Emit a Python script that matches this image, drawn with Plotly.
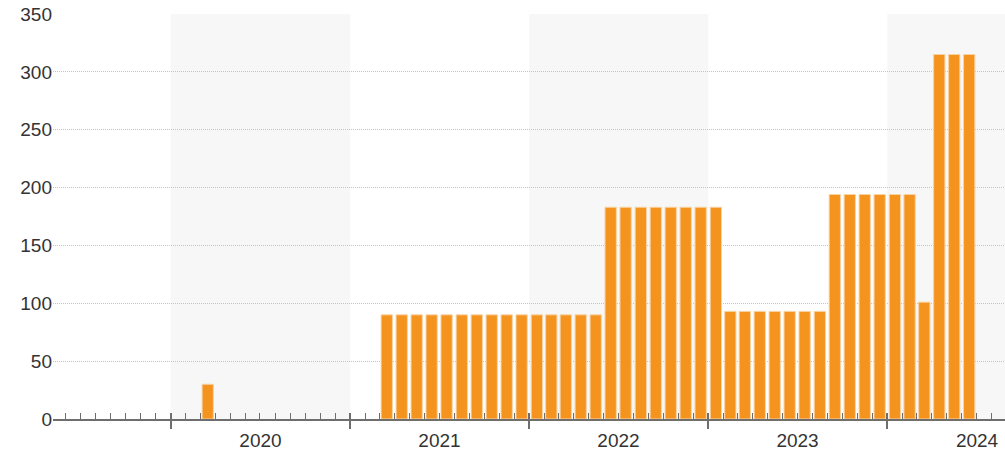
import plotly.graph_objects as go

# monthly values (only months with a value)
months = [
    "2020-03",
    "2021-03", "2021-04", "2021-05", "2021-06", "2021-07", "2021-08", "2021-09",
    "2021-10", "2021-11", "2021-12", "2022-01", "2022-02", "2022-03", "2022-04",
    "2022-05",
    "2022-06", "2022-07", "2022-08", "2022-09", "2022-10", "2022-11", "2022-12",
    "2023-01",
    "2023-02", "2023-03", "2023-04", "2023-05", "2023-06", "2023-07", "2023-08",
    "2023-09", "2023-10", "2023-11", "2023-12", "2024-01", "2024-02",
    "2024-03", "2024-04", "2024-05", "2024-06",
]
values = [
    30,
    90, 90, 90, 90, 90, 90, 90,
    90, 90, 90, 90, 90, 90, 90,
    90,
    183, 183, 183, 183, 183, 183, 183,
    183,
    93, 93, 93, 93, 93, 93, 93,
    194, 194, 194, 194, 194, 194,
    101, 315, 315, 315,
]

# year labels and shaded years
years = [2020, 2021, 2022, 2023, 2024]
band_years = [2020, 2022, 2024]
x_range = ["2019-05-06", "2024-08-28"]

BAR = "#f5931f"
AXIS = "#6e6e6e"
TEXT = "#333333"
DAY_MS = 86400000

fig = go.Figure()

fig.add_trace(
    go.Bar(
        x=months,
        y=values,
        xperiod="M1",
        xperiodalignment="middle",
        width=23 * DAY_MS,
        marker=dict(color=BAR, line=dict(color="#f9d2a2", width=1)),
        showlegend=False,
    )
)

# invisible traces so the overlay axes get drawn
for ax in ["x2", "x3"]:
    fig.add_trace(
        go.Scatter(x=[x_range[0]], y=[0], xaxis=ax, mode="markers",
                   marker=dict(opacity=0), showlegend=False, hoverinfo="skip")
    )

for yr in band_years:
    end = min(f"{yr + 1}-01-01", x_range[1])
    fig.add_shape(
        type="rect", xref="x", yref="paper",
        x0=f"{yr}-01-01", x1=end, y0=0, y1=1,
        fillcolor="#f7f7f7", line_width=0, layer="below",
    )

overlay = dict(type="date", overlaying="x", matches="x", side="bottom",
               anchor="y", showgrid=False, showline=False, zeroline=False,
               automargin=False)

fig.update_layout(
    width=1005,
    height=453,
    margin=dict(l=53, r=0, t=14, b=34),
    paper_bgcolor="white",
    plot_bgcolor="white",
    font=dict(family="Liberation Sans, Arial, sans-serif", size=19, color=TEXT),
    xaxis=dict(
        type="date",
        range=x_range,
        tick0="2020-01-01",
        dtick="M12",
        ticks="outside",
        ticklen=8,
        tickwidth=2,
        tickcolor=AXIS,
        showticklabels=False,
        showline=True,
        linecolor=AXIS,
        linewidth=2,
        showgrid=False,
        zeroline=False,
        automargin=False,
        minor=dict(dtick="M1", tick0="2020-01-01", ticks="inside",
                   ticklen=6, tickwidth=1, tickcolor=AXIS, showgrid=False),
    ),
    # year labels centred in each year
    xaxis2=dict(
        **overlay,
        tickmode="array",
        tickvals=[f"{y}-07-02" for y in years],
        ticktext=[str(y) for y in years],
        ticks="",
        ticklabelstandoff=8,
    ),
    # upper half of the year ticks
    xaxis3=dict(
        **overlay,
        tick0="2020-01-01",
        dtick="M12",
        ticks="inside",
        ticklen=6,
        tickwidth=2,
        tickcolor=AXIS,
        showticklabels=False,
    ),
    yaxis=dict(
        range=[0, 350],
        dtick=50,
        showgrid=True,
        gridcolor="#c4c4c4",
        griddash="1px,1px",
        gridwidth=1,
        zeroline=False,
        showline=False,
        ticks="",
        automargin=False,
    ),
)

fig.write_html(
    "out.html",
    config={"displayModeBar": False},
    post_script="document.body.style.margin='0';document.body.style.padding='0';",
)
